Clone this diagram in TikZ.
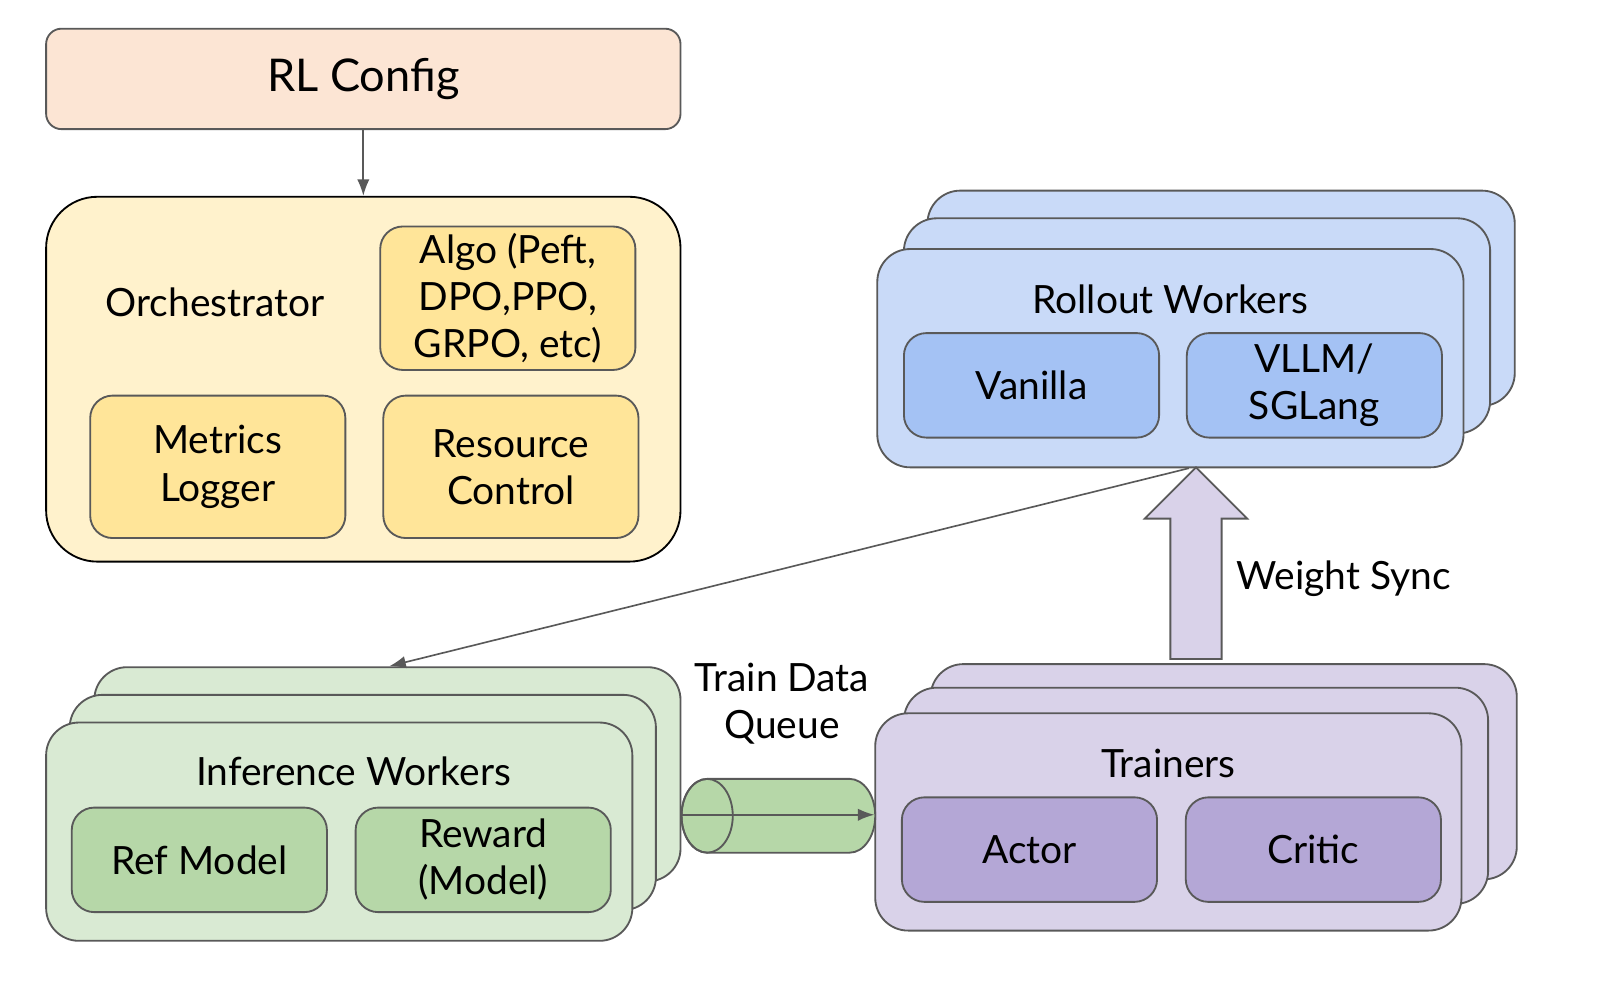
\documentclass[tikz,border=0pt]{standalone}
\usepackage{fontspec}
\setmainfont{Lato}
\usetikzlibrary{arrows.meta}
\definecolor{peach}{HTML}{FCE5D4}
\definecolor{cream}{HTML}{FFF2CC}
\definecolor{gold}{HTML}{FFE599}
\definecolor{lblue}{HTML}{C9DAF8}
\definecolor{mblue}{HTML}{A4C2F4}
\definecolor{lgreen}{HTML}{D9EAD3}
\definecolor{mgreen}{HTML}{B6D7A8}
\definecolor{lpurple}{HTML}{D9D2E9}
\definecolor{mpurple}{HTML}{B4A7D6}
\definecolor{edge}{HTML}{595959}
\tikzset{
  big/.style={font=\fontsize{38}{46}\selectfont},
  box/.style={draw=edge, line width=1.8pt, rounded corners=22, align=center, big, inner sep=0pt},
  stack/.style={box, rounded corners=32},
}
\begin{document}
\begin{tikzpicture}[x=1pt,y=-1pt]
\useasboundingbox (0,0) rectangle (1569,960);

%config and orchestrator
\node[box, fill=peach, rounded corners=15, minimum width=619, minimum height=98, font=\fontsize{44}{52}\selectfont] (cfg) at (354.5,77) {RL Config};
\node[draw=black, line width=1.8pt, fill=cream, rounded corners=50, minimum width=619, minimum height=356] (orch) at (354.5,370) {};
\node[big] (orchtxt) at (210,295) {Orchestrator};
\node[box, fill=gold, minimum width=249, minimum height=140] (algo) at (495.5,291) {Algo (Peft,\\DPO,PPO,\\GRPO, etc)};
\node[box, fill=gold, minimum width=249, minimum height=139] (metrics) at (212.5,455.5) {Metrics\\Logger};
\node[box, fill=gold, minimum width=249, minimum height=139] (resource) at (498.5,455.5) {Resource\\Control};
\draw[-{Latex[length=16,width=12]}, edge, line width=1.6pt] (cfg) -- (orch);

%rollout workers
\node[stack, fill=lblue, minimum width=573, minimum height=210] (rollC) at (1191.5,291) {};
\node[stack, fill=lblue, minimum width=572, minimum height=210] (rollB) at (1168,318) {};
\node[stack, fill=lblue, minimum width=572, minimum height=213] (roll) at (1142,349.5) {};
\node[big] (rolltxt) at (1142,292) {Rollout Workers};
\node[box, fill=mblue, minimum width=249, minimum height=102] (vanilla) at (1006.5,376) {Vanilla};
\node[box, fill=mblue, minimum width=249, minimum height=102] (vllm) at (1282.5,376) {VLLM/\\SGLang};

%inference workers
\node[stack, fill=lgreen, minimum width=572, minimum height=209] (infC) at (378,755.5) {};
\node[stack, fill=lgreen, minimum width=572, minimum height=210] (infB) at (354,783) {};
\node[stack, fill=lgreen, minimum width=572, minimum height=213] (inf) at (331,811.5) {};
\node[big] (inftxt) at (345,753) {Inference Workers};
\node[box, fill=mgreen, minimum width=249, minimum height=102] (refm) at (194.5,839) {Ref Model};
\node[box, fill=mgreen, minimum width=249, minimum height=102] (reward) at (471.5,839) {Reward\\(Model)};

%trainers
\node[stack, fill=lpurple, minimum width=572, minimum height=210] (trC) at (1194,753) {};
\node[stack, fill=lpurple, minimum width=570, minimum height=211] (trB) at (1167,776.5) {};
\node[stack, fill=lpurple, minimum width=572, minimum height=212] (tr) at (1140,802) {};
\node[big] (trtxt) at (1140,745) {Trainers};
\node[box, fill=mpurple, minimum width=249, minimum height=102] (actor) at (1004.5,829) {Actor};
\node[box, fill=mpurple, minimum width=249, minimum height=102] (critic) at (1281.5,829) {Critic};

%queue
\draw[edge, line width=1.8pt, fill=mgreen] (690,760) -- (829,760)
  arc[start angle=-90, end angle=90, x radius=25, y radius=36] -- (690,832)
  arc[start angle=90, end angle=270, x radius=25, y radius=36] -- cycle;
\draw[edge, line width=1.8pt] (690,796) ellipse[x radius=25, y radius=36];
\node[big, align=center] (qtxt) at (763,687) {Train Data\\Queue};
\coordinate (qin) at (665,795);
\draw[-{Latex[length=16,width=12]}, edge, line width=1.6pt] (qin) -- (qin -| tr.west);

%weight sync
\draw[edge, line width=1.8pt, fill=lpurple] (1142,643) -- (1142,506) -- (1117,506) -- (1167,456) -- (1217,506) -- (1192,506) -- (1192,643) -- cycle;
\node[big, anchor=west] (sync) at (1203,565) {Weight Sync};
\coordinate (infin) at (380,650);
\draw[-{Latex[length=16,width=12]}, edge, line width=1.6pt] (roll.south) ++(18,0) -- (infin);
\end{tikzpicture}
\end{document}
